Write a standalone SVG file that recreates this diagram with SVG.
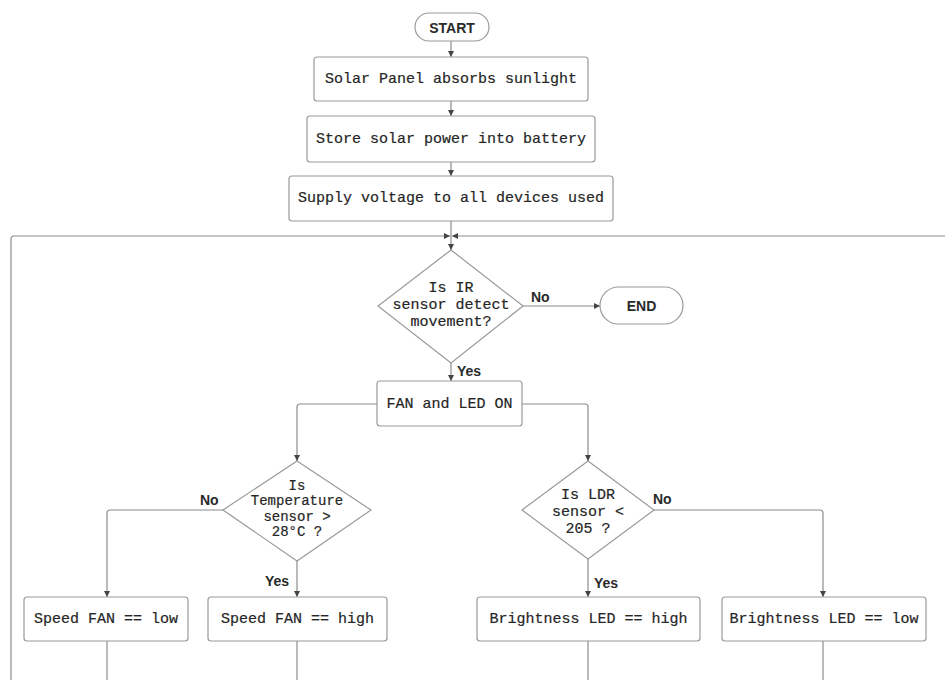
<svg xmlns="http://www.w3.org/2000/svg" width="945" height="680" viewBox="0 0 945 680">
<defs>
<marker id="arr" viewBox="0 0 8 8" refX="8" refY="4" markerWidth="6" markerHeight="6" markerUnits="userSpaceOnUse" orient="auto">
<path d="M0,0 L8,4 L0,8 Z" fill="#444"/>
</marker>
<style>
.shape{fill:#fff;stroke:#9a9a9a;stroke-width:1.2}
.mono{font-family:"Liberation Mono","DejaVu Sans Mono",monospace;font-size:15px;fill:#262626;stroke:#262626;stroke-width:0.2;text-anchor:middle;dominant-baseline:central}
.mono14{font-size:14px}
.term{font-family:"Liberation Sans",Arial,sans-serif;font-size:14px;font-weight:bold;fill:#2a2a2a;text-anchor:middle;dominant-baseline:central}
.lbl{font-family:"Liberation Sans",Arial,sans-serif;font-size:14px;font-weight:bold;fill:#2a2a2a;dominant-baseline:central}
.conn path{fill:none;stroke:#8c8c8c;stroke-width:1.2}
.conn .a{marker-end:url(#arr)}
</style>
</defs>
<rect width="945" height="680" fill="#fff"/>
<g class="conn" id="connectors">
<path class="a" d="M451,41 V57"/>
<path class="a" d="M451,101 V116"/>
<path class="a" d="M451,162 V176"/>
<path class="a" d="M451,221 V250"/>
<path class="a" d="M11,680 V239 Q11,236 14,236 H450"/>
<path class="a" d="M945,236 H452"/>
<path class="a" d="M523,306 H600"/>
<path class="a" d="M451,363 V381"/>
<path class="a" d="M377,404 H300 Q297,404 297,407 V461"/>
<path class="a" d="M522,404 H585 Q588,404 588,407 V461"/>
<path class="a" d="M223,510 H110 Q107,510 107,513 V597"/>
<path class="a" d="M297,561 V597"/>
<path class="a" d="M654,510 H820 Q823,510 823,513 V597"/>
<path class="a" d="M588,559 V597"/>
<path d="M107,641 V680"/>
<path d="M297,641 V680"/>
<path d="M588,641 V680"/>
<path d="M823,641 V680"/>
</g>
<g id="start">
<rect class="shape" x="415" y="13" width="74" height="28" rx="14"/>
<text class="term" x="452" y="27.5">START</text>
</g>
<g id="solar">
<rect class="shape" x="314" y="57" width="274" height="44" rx="3"/>
<text class="mono" x="451" y="79">Solar Panel absorbs sunlight</text>
</g>
<g id="store">
<rect class="shape" x="307" y="116" width="288" height="46" rx="3"/>
<text class="mono" x="451" y="139">Store solar power into battery</text>
</g>
<g id="supply">
<rect class="shape" x="289" y="176" width="324" height="45" rx="3"/>
<text class="mono" x="451" y="198.5">Supply voltage to all devices used</text>
</g>
<g id="ir">
<polygon class="shape" points="451,250 523,306 451,363 378,306"/>
<text class="mono" x="451" y="288">Is IR</text>
<text class="mono" x="451" y="305">sensor detect</text>
<text class="mono" x="451" y="322">movement?</text>
</g>
<g id="end">
<rect class="shape" x="600" y="287" width="83" height="37" rx="18.5"/>
<text class="term" x="641.5" y="305.5">END</text>
</g>
<g id="fanled">
<rect class="shape" x="377" y="381" width="145" height="45" rx="3"/>
<text class="mono" x="449.5" y="404">FAN and LED ON</text>
</g>
<g id="temp">
<polygon class="shape" points="297,461 371,510 297,561 223,510"/>
<text class="mono mono14" x="297" y="485.5">Is</text>
<text class="mono mono14" x="297" y="501">Temperature</text>
<text class="mono mono14" x="297" y="516.5">sensor &gt;</text>
<text class="mono mono14" x="297" y="532">28°C ?</text>
</g>
<g id="ldr">
<polygon class="shape" points="588,461 654,510 588,559 522,510"/>
<text class="mono" x="588" y="495">Is LDR</text>
<text class="mono" x="588" y="512">sensor &lt;</text>
<text class="mono" x="588" y="529">205 ?</text>
</g>
<g id="fanlow">
<rect class="shape" x="24" y="597" width="164" height="44" rx="3"/>
<text class="mono" x="106" y="619">Speed FAN == low</text>
</g>
<g id="fanhigh">
<rect class="shape" x="208" y="597" width="179" height="44" rx="3"/>
<text class="mono" x="297.5" y="619">Speed FAN == high</text>
</g>
<g id="ledhigh">
<rect class="shape" x="477" y="597" width="223" height="44" rx="3"/>
<text class="mono" x="588.5" y="619">Brightness LED == high</text>
</g>
<g id="ledlow">
<rect class="shape" x="722" y="597" width="204" height="44" rx="3"/>
<text class="mono" x="824" y="619">Brightness LED == low</text>
</g>
<g id="labels">
<text class="lbl" x="531" y="297">No</text>
<text class="lbl" x="457" y="371">Yes</text>
<text class="lbl" x="200" y="500">No</text>
<text class="lbl" x="265" y="581">Yes</text>
<text class="lbl" x="653" y="499">No</text>
<text class="lbl" x="594" y="583">Yes</text>
</g>
</svg>
